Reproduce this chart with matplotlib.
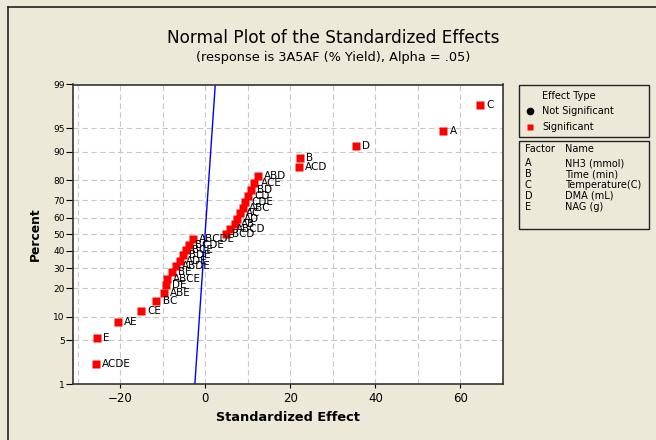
from statistics import NormalDist
import numpy as np
import matplotlib.pyplot as plt
from matplotlib.patches import Rectangle
from matplotlib.lines import Line2D

# Effects sorted from smallest to largest standardized effect
EFFECT_NAMES = ['ACDE', 'E', 'AE', 'CE', 'BC', 'ABE', 'DE', 'ABCE', 'BE', 'ABDE',
                'ADE', 'BDE', 'BCE', 'BCDE', 'ABCDE', 'BCD', 'ABCD', 'AB', 'AD', 'AC',
                'ABC', 'CDE', 'CD', 'BD', 'ACE', 'ABD', 'ACD', 'B', 'D', 'A', 'C']
EFFECT_VALUES = [-25.7, -25.4, -20.6, -15.0, -11.5, -9.8, -9.3, -9.0, -7.9, -6.9,
                 -6.0, -5.2, -4.5, -3.8, -3.0, 4.8, 5.8, 6.9, 7.5, 8.2,
                 8.8, 9.4, 10.1, 10.8, 11.5, 12.3, 22.0, 22.3, 35.4, 56.0, 64.6]

# reference line end points (effect at 1% and 99%)
REF_PERCENT = [1, 99]
REF_EFFECT = [-2.45, 2.35]

Y_TICKS = [1, 5, 10, 20, 30, 40, 50, 60, 70, 80, 90, 95, 99]
X_TICKS = [-20, 0, 20, 40, 60]

FACTORS = ['A', 'B', 'C', 'D', 'E']
FACTOR_NAMES = ['NH3 (mmol)', 'Time (min)', 'Temperature(C)', 'DMA (mL)', 'NAG (g)']

BG = '#ECE9D8'
nd = NormalDist()


def z(p):
    return np.array([nd.inv_cdf(v / 100.0) for v in np.atleast_1d(p)])


n = len(EFFECT_VALUES)
ranks = np.arange(1, n + 1)
percent = (ranks - 0.3) / (n + 0.4) * 100

plt.rcParams['font.family'] = ['DejaVu Sans']
fig = plt.figure(figsize=(6.56, 4.40), dpi=100, facecolor=BG)
ax = fig.add_axes([73 / 656, 1 - 384 / 440, 430 / 656, 299.5 / 440])
ax.set_facecolor('white')

# grid
for gx in range(-30, 70, 10):
    ax.axvline(gx, color='#C8C8C8', ls=(0, (5, 3)), lw=0.8, zorder=0)
for gy in Y_TICKS[1:-1]:
    ax.axhline(z(gy)[0], color='#C8C8C8', ls=(0, (5, 3)), lw=0.8, zorder=0)

ax.plot(REF_EFFECT, z(REF_PERCENT), color='#0000FF', lw=1.0, zorder=2)
ax.plot(EFFECT_VALUES, z(percent), 's', color='#FF0000', ms=6, mec='none', zorder=3)
for name, xv, pv in zip(EFFECT_NAMES, EFFECT_VALUES, percent):
    ax.annotate(name, (xv, z(pv)[0]), xytext=(4.5, 0), textcoords='offset points',
                ha='left', va='center', fontsize=7.5, zorder=4)

ax.set_xlim(-31.1, 70.0)
ax.set_ylim(z(1)[0], z(99)[0])
ax.set_xticks(X_TICKS)
ax.set_yticks(z(Y_TICKS))
ax.set_yticklabels([str(t) for t in Y_TICKS])
ax.tick_params(axis='x', labelsize=8.5, length=3, pad=3)
ax.tick_params(axis='y', labelsize=6.5, length=5, pad=1)
for s in ax.spines.values():
    s.set_color('#333333')
    s.set_linewidth(1.2)

ax.set_xlabel('Standardized Effect', fontsize=9.3, fontweight='bold', labelpad=4)
ax.set_ylabel('Percent', fontsize=8.8, fontweight='bold', labelpad=8)

fig.text(333 / 656, 1 - 38 / 440, 'Normal Plot of the Standardized Effects',
         ha='center', va='center', fontsize=12.2)
fig.text(333 / 656, 1 - 57.5 / 440, '(response is 3A5AF (% Yield), Alpha = .05)',
         ha='center', va='center', fontsize=9.3)

# outer frame
fig.add_artist(Line2D([8 / 656, 1], [1 - 7.5 / 440] * 2, color='#222222', lw=1.2))
fig.add_artist(Line2D([8 / 656] * 2, [0, 1 - 7.5 / 440], color='#222222', lw=1.2))

# legend boxes
W = 656.0
H = 440.0
fig.add_artist(Rectangle((518.5 / W, 1 - 136.5 / H), 130 / W, 51.5 / H, transform=fig.transFigure,
                         facecolor='none', edgecolor='#222222', lw=1.0))
fig.text(541.5 / W, 1 - 96 / H, 'Effect Type', fontsize=7, va='center')
fig.add_artist(Line2D([530 / W], [1 - 110.5 / H], marker='o', color='black', ms=4.5))
fig.text(542 / W, 1 - 110.5 / H, 'Not Significant', fontsize=7, va='center')
fig.add_artist(Line2D([530 / W], [1 - 127 / H], marker='s', color='#FF0000', ms=5, mec='none'))
fig.text(542 / W, 1 - 127 / H, 'Significant', fontsize=7, va='center')

fig.add_artist(Rectangle((518.5 / W, 1 - 229 / H), 130 / W, 88 / H, transform=fig.transFigure,
                         facecolor='none', edgecolor='#222222', lw=1.0))
fig.text(524.5 / W, 1 - 149 / H, 'Factor', fontsize=7, va='center')
fig.text(565 / W, 1 - 149 / H, 'Name', fontsize=7, va='center')
for i, (f, nm) in enumerate(zip(FACTORS, FACTOR_NAMES)):
    yy = 1 - (163.3 + i * 10.8) / H
    fig.text(524.5 / W, yy, f, fontsize=7, va='center')
    fig.text(565 / W, yy, nm, fontsize=7, va='center')

fig.savefig('out.png', dpi=100, facecolor=BG)
